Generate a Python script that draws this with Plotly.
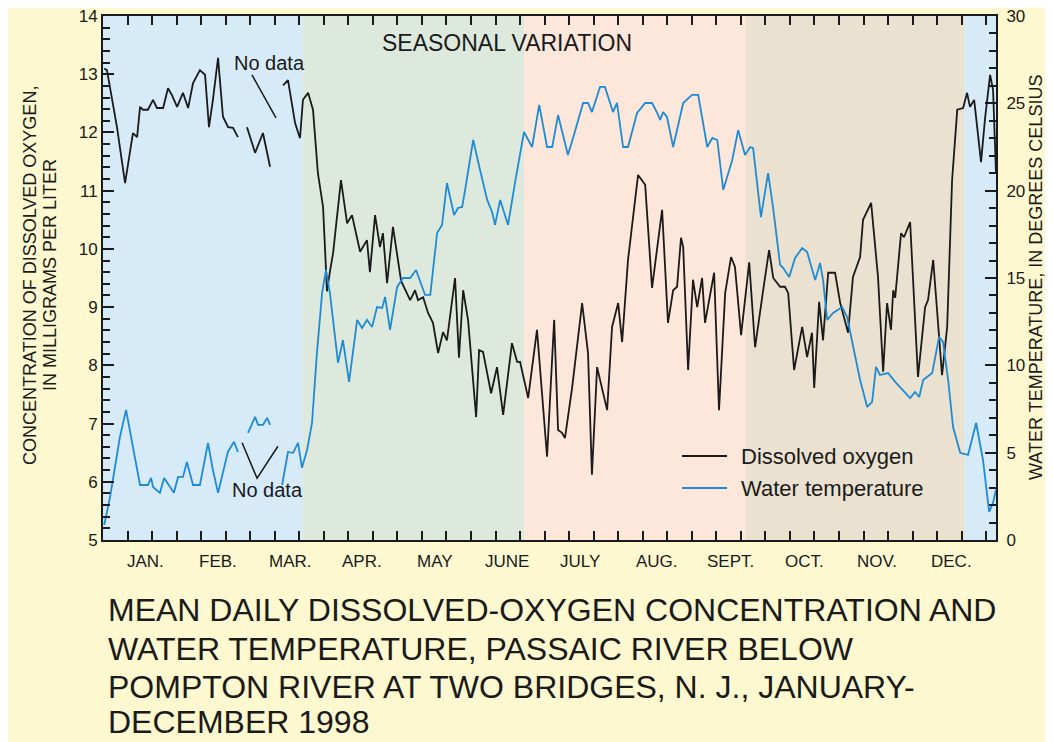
import plotly.graph_objects as go

# ---------------- data (day of year 1998, value) ----------------
do_day = [0.5, 1.6, 5.7, 9.0, 12.2, 13.9, 15.1, 16.3, 18.3, 20.4, 22.0, 24.5, 26.5, 28.1, 30.2,
          32.6, 34.7, 36.7, 39.5, 41.6, 43.2, 44.8, 46.9, 48.9, 51.0, 53.0, 55.0, 57.0,
          58.7, 62.0, 65.2, 68.1, 70.5,
          73.4, 75.4, 78.3, 80.3, 81.5, 83.6, 85.6, 87.6, 89.7, 91.3, 92.5, 93.8, 97.0, 99.5,
          101.5, 104.8, 107.6, 108.8, 110.9, 112.9, 114.1, 115.8, 118.2, 120.3, 121.5, 125.2,
          127.2, 128.4, 130.5, 132.5, 134.5, 136.6, 138.6, 140.2, 143.5, 145.1, 146.8, 148.8,
          152.1, 153.3, 154.9, 158.2, 160.6, 163.1, 166.7, 168.8, 170.0, 173.3, 176.9, 181.0,
          183.9, 185.5, 187.1, 188.3, 191.2, 195.3, 197.7, 199.3, 201.4, 202.6, 205.5, 207.5,
          210.0, 211.6, 214.0, 218.1, 221.0, 223.8, 226.3, 227.9, 230.3, 232.4, 234.0, 235.6,
          236.5, 238.5, 240.5, 242.2, 244.2, 245.4, 249.1, 251.1, 253.6, 256.0, 257.6, 260.1,
          263.4, 265.8, 269.1, 271.5, 273.2, 276.0, 278.0, 279.3, 281.7, 285.0, 287.0, 289.0,
          289.9, 291.9, 293.5, 295.6, 298.4, 300.5, 303.7, 305.7, 308.6, 309.8, 313.1, 315.9,
          318.0, 319.6, 321.2, 322.1, 322.9, 325.3, 326.5, 329.0, 332.2, 335.1, 336.3, 338.4,
          342.0, 344.1, 346.1, 348.2, 350.6, 352.2, 353.4, 355.1, 357.9, 359.6, 361.6, 362.8,
          364.0]
do_mgl = [13.10, 13.07, 12.09, 11.13, 11.99, 11.92, 12.44, 12.39, 12.39, 12.56, 12.42, 12.42,
          12.76, 12.64, 12.44, 12.68, 12.42, 12.85, 13.07, 12.99, 12.09, 12.56, 13.28, 12.27,
          12.09, 12.08, 11.92, None,
          12.09, 11.65, 11.99, 11.41, None,
          12.81, 12.90, 12.16, 11.90, 12.56, 12.68, 12.39, 11.30, 10.72, 9.27, 9.61, 9.93,
          11.18, 10.44, 10.58, 9.95, 10.15, 9.60, 10.58, 10.03, 10.27, 9.41, 10.38, 9.76, 9.45,
          9.12, 9.29, 9.12, 9.17, 8.90, 8.73, 8.21, 8.57, 8.43, 9.50, 8.13, 9.29, 8.78, 7.11,
          8.26, 8.23, 7.52, 7.97, 7.15, 8.38, 8.06, 8.06, 7.44, 8.61, 6.43, 8.78, 6.89, 6.84,
          6.75, 7.61, 9.07, 8.21, 6.12, 7.97, 7.75, 7.23, 8.66, 9.07, 8.40, 9.81, 11.27, 11.10,
          9.33, 10.20, 10.67, 8.73, 9.29, 9.35, 10.19, 10.03, 7.92, 9.47, 9.00, 9.50, 8.73,
          9.59, 7.23, 9.24, 9.86, 9.69, 8.52, 9.77, 8.31, 9.29, 9.98, 9.50, 9.35, 9.35, 9.24,
          7.92, 8.66, 8.14, 8.56, 7.61, 9.09, 8.43, 9.59, 9.59, 9.07, 8.56, 9.52, 9.86, 10.50,
          10.79, 9.52, 7.89, 9.07, 8.61, 9.29, 9.16, 10.27, 10.20, 10.46, 7.80, 9.00, 9.12,
          9.81, 7.83, 8.66, 11.18, 12.39, 12.42, 12.68, 12.44, 12.56, 11.49, 12.27, 12.99,
          12.73, 11.30]

temp_day = [0.5, 2.9, 6.9, 9.4, 12.2, 15.1, 18.3, 19.6, 20.4, 23.2, 24.9, 27.3, 28.9, 30.6,
            32.6, 34.2, 36.7, 39.5, 42.8, 44.8, 46.9, 50.9, 53.4, 55.0, 57.0,
            59.1, 62.0, 63.2, 65.2, 66.9, 68.1, 70.5,
            73.0, 75.4, 77.5, 79.5, 81.1, 83.2, 85.2, 87.2, 89.3, 90.9, 92.5, 95.8, 97.8, 100.3,
            103.6, 105.6, 107.6, 109.7, 111.7, 113.8, 115.0, 117.0, 119.9, 122.3, 125.2, 127.6,
            131.3, 133.4, 136.2, 138.2, 140.2, 143.1, 144.7, 146.4, 147.6, 150.9, 153.7, 156.6,
            158.6, 159.8, 161.9, 165.1, 168.0, 171.6, 174.9, 177.8, 181.0, 183.1, 185.5, 189.5,
            191.6, 195.7, 197.7, 199.3, 200.5, 202.6, 204.6, 207.9, 209.5, 212.0, 214.0, 217.7,
            221.0, 223.8, 225.9, 227.1, 228.3, 229.9, 232.4, 236.5, 240.1, 242.6, 246.3, 248.4,
            250.4, 252.8, 256.5, 258.9, 261.7, 263.8, 265.0, 268.2, 271.1, 273.1, 276.0, 277.2,
            279.7, 282.1, 285.0, 287.0, 290.3, 292.3, 293.5, 295.2, 297.6, 301.3, 303.3, 305.7,
            308.6, 311.5, 313.5, 315.1, 316.7, 320.0, 322.9, 329.0, 331.0, 332.7, 334.3, 338.0,
            340.8, 342.4, 344.5, 346.5, 349.4, 352.6, 355.9, 358.7, 361.2, 362.8, 364.0]
temp_c = [0.86, 2.47, 5.90, 7.45, 5.33, 3.15, 3.15, 3.55, 3.04, 2.70, 3.55, 3.04, 2.70, 3.61,
          3.61, 4.47, 3.15, 3.15, 5.56, 4.01, 2.70, 5.04, 5.62, 5.04, None,
          6.13, 7.05, 6.59, 6.59, 6.99, 6.59, None,
          3.15, 5.04, 4.99, 5.56, 4.13, 5.16, 6.70, 10.71, 14.14, 15.46, 14.14, 10.14, 11.45,
          9.05, 12.60, 12.14, 12.60, 12.20, 13.34, 13.29, 13.92, 12.03, 14.49, 15.00, 15.00,
          15.46, 14.03, 14.03, 17.58, 18.04, 20.44, 18.61, 19.01, 19.07, 20.04, 22.90, 21.18,
          19.47, 18.78, 18.04, 19.47, 18.04, 20.50, 23.36, 22.50, 24.91, 22.50, 22.50, 24.33,
          22.04, 23.02, 25.02, 25.02, 24.50, 25.02, 25.94, 25.94, 24.50, 25.02, 22.50, 22.50,
          24.45, 25.02, 25.02, 24.45, 24.05, 24.50, 24.22, 22.50, 25.02, 25.48, 25.48, 22.50,
          23.02, 22.90, 20.04, 21.76, 23.47, 22.04, 22.50, 22.44, 18.49, 21.01, 19.07, 15.75,
          15.58, 15.06, 16.15, 16.72, 16.49, 14.89, 15.86, 14.89, 12.60, 13.00, 13.34, 12.77,
          11.05, 9.16, 7.62, 7.91, 9.91, 9.45, 9.56, 9.05, 8.13, 8.48, 8.19, 9.16, 9.56, 11.63,
          11.34, 9.16, 6.47, 4.99, 4.87, 6.70, 4.58, 1.61, 2.12, 2.87]

assert len(do_day) == len(do_mgl) and len(temp_day) == len(temp_c)

month_labels = ["JAN.", "FEB.", "MAR.", "APR.", "MAY", "JUNE", "JULY", "AUG.",
                "SEPT.", "OCT.", "NOV.", "DEC."]
month_label_days = [17.5, 47.0, 76.6, 105.6, 135.4, 164.7, 194.4, 225.8, 255.6, 285.8, 315.6, 346.0]

season_bounds = [0, 81.6, 171.6, 262.0, 351.0, 364.0]
season_colors = ["#d6eaf8", "#dde9dc", "#fde6da", "#ebe1d0", "#d6eaf8"]

x_ticks = list(range(0, 365, 10))

title_lines = ["MEAN DAILY DISSOLVED-OXYGEN CONCENTRATION AND",
               "WATER TEMPERATURE, PASSAIC RIVER BELOW",
               "POMPTON RIVER AT TWO BRIDGES, N. J., JANUARY-",
               "DECEMBER 1998"]

FONT = "Liberation Sans, Arial, Helvetica, sans-serif"
INK = "#1a1a1a"
BLUE = "#1f8bd4"
BG = "#fdf8cf"

# plot area occupies 893 x 524 px; helpers convert page-pixel offsets to paper fractions
PW, PH = 893.0, 524.0


def px(x):
    return (x - 103) / PW


def py(y):
    return (540 - y) / PH


fig = go.Figure()

fig.add_trace(go.Scatter(x=temp_day, y=temp_c, yaxis="y2", mode="lines",
                         line=dict(color=BLUE, width=1.8), name="Water temperature",
                         connectgaps=False, showlegend=False))
fig.add_trace(go.Scatter(x=do_day, y=do_mgl, yaxis="y", mode="lines",
                         line=dict(color=INK, width=1.8), name="Dissolved oxygen",
                         connectgaps=False, showlegend=False))

shapes = []
for i, c in enumerate(season_colors):
    shapes.append(dict(type="rect", xref="x", yref="paper", x0=season_bounds[i], x1=season_bounds[i + 1],
                       y0=0, y1=1, fillcolor=c, line=dict(width=0), layer="below"))
# "No data" leader lines
shapes.append(dict(type="line", xref="x", yref="y", x0=60.7, y0=12.99, x1=70.5, y1=12.25,
                   line=dict(color=INK, width=1.5)))
shapes.append(dict(type="path", xref="x", yref="y", path="M 56.7,6.67 L 62.8,6.06 L 71.3,6.61",
                   line=dict(color=INK, width=1.5)))
# legend keys
legend_items = [("Dissolved oxygen", INK, 456), ("Water temperature", BLUE, 488)]
for name, col, yy in legend_items:
    shapes.append(dict(type="line", xref="paper", yref="paper", x0=px(682), x1=px(727),
                       y0=py(yy), y1=py(yy), line=dict(color=col, width=1.8)))

annotations = []
for lab, d in zip(month_labels, month_label_days):
    annotations.append(dict(x=d, y=py(561), xref="x", yref="paper", text=lab, showarrow=False,
                            font=dict(family=FONT, size=17, color=INK), xanchor="center", yanchor="middle"))
for name, col, yy in legend_items:
    annotations.append(dict(x=px(739), y=py(yy), xref="paper", yref="paper", text=name, showarrow=False,
                            xanchor="left", yanchor="middle", font=dict(family=FONT, size=22, color=INK)))
annotations += [
    dict(x=67.7, y=13.2, xref="x", yref="y", text="No data", showarrow=False, xanchor="center",
         yanchor="middle", font=dict(family=FONT, size=20, color=INK)),
    dict(x=66.9, y=5.86, xref="x", yref="y", text="No data", showarrow=False, xanchor="center",
         yanchor="middle", font=dict(family=FONT, size=20, color=INK)),
    dict(x=px(507), y=py(43), xref="paper", yref="paper", text="SEASONAL VARIATION",
         showarrow=False, xanchor="center", yanchor="middle", font=dict(family=FONT, size=23, color=INK)),
    dict(x=px(30), y=py(276), xref="paper", yref="paper", text="CONCENTRATION OF DISSOLVED OXYGEN,",
         showarrow=False, textangle=-90, xanchor="center", yanchor="middle",
         font=dict(family=FONT, size=18, color=INK)),
    dict(x=px(50), y=py(275), xref="paper", yref="paper", text="IN MILLIGRAMS PER LITER",
         showarrow=False, textangle=-90, xanchor="center", yanchor="middle",
         font=dict(family=FONT, size=18, color=INK)),
    dict(x=px(1036), y=py(278), xref="paper", yref="paper",
         text="WATER TEMPERATURE, IN DEGREES CELSIUS",
         showarrow=False, textangle=-90, xanchor="center", yanchor="middle",
         font=dict(family=FONT, size=18, color=INK)),
]
for line, yy in zip(title_lines, [610, 648.5, 687, 722]):
    annotations.append(dict(x=px(106), y=py(yy), xref="paper", yref="paper", xanchor="left",
                            yanchor="middle", text=line, showarrow=False,
                            font=dict(family=FONT, size=32, color=INK)))

fig.update_layout(
    width=1037, height=734,
    margin=dict(l=95, r=49, t=8, b=202, autoexpand=False),
    paper_bgcolor=BG, plot_bgcolor=BG,
    font=dict(family=FONT, color=INK),
    shapes=shapes, annotations=annotations,
    showlegend=False,
    xaxis=dict(range=[0, 364], tickmode="array", tickvals=x_ticks, showticklabels=False,
               ticks="inside", ticklen=9, tickwidth=1.5, tickcolor=INK,
               showline=True, linewidth=2, linecolor=INK, mirror="ticks",
               showgrid=False, zeroline=False, automargin=False),
    yaxis=dict(range=[5, 14], tickmode="linear", tick0=5, dtick=1, ticks="inside", ticklen=11,
               tickwidth=1.5, tickcolor=INK, showline=True, linewidth=2, linecolor=INK,
               minor=dict(dtick=0.2, ticks="inside", ticklen=7, tickwidth=1.5, tickcolor=INK),
               tickfont=dict(family=FONT, size=17, color=INK), showgrid=False, zeroline=False,
               automargin=False, ticklabeloverflow="allow"),
    yaxis2=dict(range=[0, 30], overlaying="y", side="right", tickmode="linear", tick0=0, dtick=5,
                ticks="inside", ticklen=11, tickwidth=1.5, tickcolor=INK, showline=True, linewidth=2,
                linecolor=INK, minor=dict(dtick=1, ticks="inside", ticklen=7, tickwidth=1.5, tickcolor=INK),
                tickfont=dict(family=FONT, size=17, color=INK), showgrid=False, zeroline=False,
                ticklabelstandoff=5, automargin=False, ticklabeloverflow="allow"),
)

fig.write_html("out.html")
